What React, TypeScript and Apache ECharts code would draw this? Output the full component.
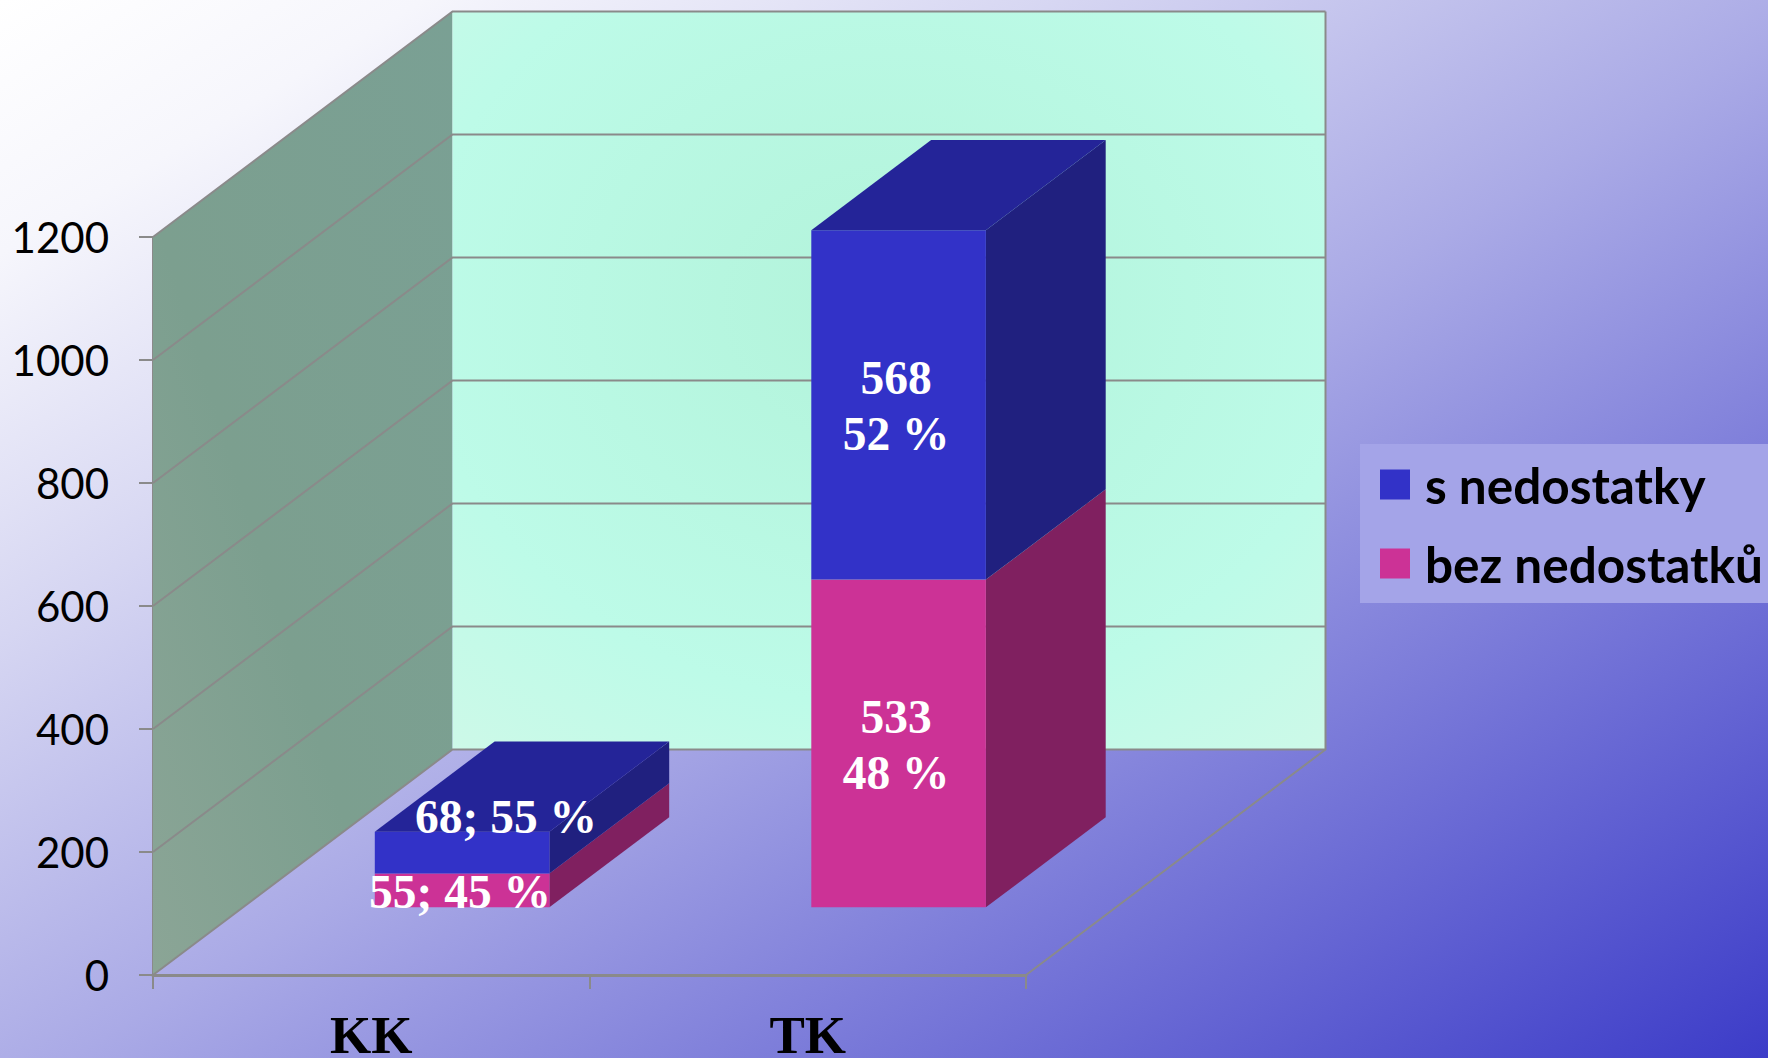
import React, { useEffect, useRef } from "react";
import * as echarts from "echarts";

const categories = ["KK", "TK"];
const bezNedostatku = [55, 533];
const sNedostatky = [68, 568];
const bezLabels = ["55; 45 %", "533\n48 %"];
const sLabels = ["68; 55 %", "568\n52 %"];
const yTicks = [0, 200, 400, 600, 800, 1000, 1200];
const seriesNames = ["s nedostatky", "bez nedostatků"];

const DEPTH_X = 299.5;
const DEPTH_Y = -225.5;
const NEAR = 0.3;
const FAR = 0.7;
const BAR_SHIFT = 1;
const LINE = "#8a8a8a";
const serif = "'Liberation Serif', 'Times New Roman', serif";

function wallsRender(params: any, api: any) {
  const v = api.value(0);
  const p = api.coord([0, v]);
  const left = p[0] - api.size([1, 0])[0] / 2;
  const y = p[1];
  const children: any[] = [];
  const right = api.coord([1, 0])[0] + api.size([1, 0])[0] / 2;
  if (params.dataIndex === 0) {
    const top = api.coord([0, yTicks[yTicks.length - 1]])[1];
    children.push({
      type: "polygon",
      shape: { points: [[left, y], [left, top], [left + DEPTH_X, top + DEPTH_Y], [left + DEPTH_X, y + DEPTH_Y]] },
      style: {
        fill: new echarts.graphic.LinearGradient(0, 1, 1, 0, [
          { offset: 0, color: "#8ba596" },
          { offset: 0.4, color: "#7c9f8f" },
          { offset: 1, color: "#7aa094" },
        ]),
      },
    });
    children.push({
      type: "rect",
      shape: { x: left + DEPTH_X, y: top + DEPTH_Y, width: right - left, height: y - top },
      style: {
        fill: new echarts.graphic.RadialGradient(0.5, 0.4, 0.9, [
          { offset: 0, color: "#b2f3da" },
          { offset: 0.6, color: "#bdfbe8" },
          { offset: 0.85, color: "#ccf9e8" },
          { offset: 1, color: "#e0fbef" },
        ]),
      },
    });
    children.push({
      type: "polyline",
      shape: { points: [[right, y], [right + DEPTH_X, y + DEPTH_Y], [right + DEPTH_X, top + DEPTH_Y]] },
      style: { fill: "none", stroke: LINE, lineWidth: 2 },
    });
  }
  children.push({
    type: "polyline",
    shape: { points: [[left, y], [left + DEPTH_X, y + DEPTH_Y], [right + DEPTH_X, y + DEPTH_Y]] },
    style: { fill: "none", stroke: LINE, lineWidth: 2 },
  });
  return { type: "group", children };
}

function barRender(colors: any, labels: string[], isTop: boolean) {
  return (params: any, api: any) => {
    const i = api.value(0);
    const from = api.coord([i, api.value(1)]);
    const to = api.coord([i, api.value(2)]);
    const half = api.size([1, 0])[0] * 0.2;
    const nx = DEPTH_X * NEAR + BAR_SHIFT;
    const ny = DEPTH_Y * NEAR;
    const fx = DEPTH_X * FAR + BAR_SHIFT;
    const fy = DEPTH_Y * FAR;
    const x0 = from[0] - half + nx;
    const x1 = from[0] + half + nx;
    const yb = from[1] + ny;
    const yt = to[1] + ny;
    const dx = fx - nx;
    const dy = fy - ny;
    const text = labels[i];
    const small = text.indexOf("\n") < 0;
    const tx = (x0 + x1) / 2 + (small && isTop ? 44 : small ? -2 : -2.5);
    const ty = (yb + yt) / 2 + (small && isTop ? -36 : 1.5);
    const children: any[] = [
      {
        type: "polygon",
        shape: { points: [[x1, yb], [x1 + dx, yb + dy], [x1 + dx, yt + dy], [x1, yt]] },
        style: { fill: colors.side },
      },
      {
        type: "rect",
        shape: { x: x0, y: yt, width: x1 - x0, height: yb - yt },
        style: { fill: colors.front },
      },
    ];
    if (isTop) {
      children.push({
        type: "polygon",
        shape: { points: [[x0, yt], [x0 + dx, yt + dy], [x1 + dx, yt + dy], [x1, yt]] },
        style: { fill: colors.top },
      });
    }
    children.push({
      type: "text",
      style: {
        x: tx,
        y: ty,
        text,
        fill: "#ffffff",
        fontFamily: serif,
        fontWeight: "bold",
        fontSize: 47.5,
        lineHeight: 56,
        align: "center",
        verticalAlign: "middle",
      },
    });
    return { type: "group", children };
  };
}

export default function App() {
  const ref = useRef<HTMLDivElement>(null);
  useEffect(() => {
    const chart = echarts.init(ref.current!, undefined, { renderer: "svg" });
    const bottomData = categories.map((_, i) => [i, 0, bezNedostatku[i]]);
    const topData = categories.map((_, i) => [i, bezNedostatku[i], bezNedostatku[i] + sNedostatky[i]]);
    chart.setOption({
      animation: false,
      backgroundColor: new echarts.graphic.LinearGradient(0, 0, 1, 1, [
        { offset: 0, color: "#ffffff" },
        { offset: 0.12, color: "#f6f6fc" },
        { offset: 0.3, color: "#d6d6f2" },
        { offset: 0.52, color: "#aaaae6" },
        { offset: 1, color: "#3c3cc8" },
      ]),
      grid: { left: 153, right: 742, top: 237, bottom: 83, outerBoundsMode: "none" },
      legend: {
        data: seriesNames,
        orient: "vertical",
        left: 1360,
        top: 444,
        padding: [15.5, 60, 14.5, 20],
        itemWidth: 30,
        itemHeight: 30,
        itemGap: 29,
        backgroundColor: "#a4a4e8",
        icon: "rect",
        textStyle: {
          fontFamily: "Lato",
          fontWeight: "bold",
          fontSize: 49.5,
          lineHeight: 38,
          color: "#000",
          padding: [0, 0, 12, 10],
        },
      },
      xAxis: {
        type: "category",
        data: categories,
        axisLine: { lineStyle: { color: LINE, width: 3 } },
        axisTick: { show: true, alignWithLabel: false, length: 14, lineStyle: { color: LINE, width: 2 } },
        axisLabel: { fontFamily: serif, fontWeight: "bold", fontSize: 53, lineHeight: 30, color: "#000", margin: 45 },
      },
      yAxis: {
        type: "value",
        min: 0,
        max: 1200,
        interval: 200,
        splitLine: { show: false },
        axisLine: { show: true, lineStyle: { color: LINE, width: 2 } },
        axisTick: { show: true, length: 14, lineStyle: { color: LINE, width: 2 } },
        axisLabel: {
          fontFamily: "Lato",
          fontSize: 42,
          color: "#000",
          margin: 44,
          padding: [4, 0, 0, 0],
          formatter: (v: number) => String(v),
        },
      },
      series: [
        {
          type: "custom",
          name: "walls",
          renderItem: wallsRender,
          data: yTicks.map((t) => [t]),
          encode: { y: 0 },
          z: 1,
          silent: true,
        },
        {
          type: "custom",
          name: seriesNames[1],
          renderItem: barRender({ front: "#cc3296", side: "#802060" }, bezLabels, false),
          itemStyle: { color: "#cc3296" },
          data: bottomData,
          encode: { x: 0, y: [1, 2] },
          z: 3,
        },
        {
          type: "custom",
          name: seriesNames[0],
          renderItem: barRender({ front: "#3232c8", side: "#20207f", top: "#242498" }, sLabels, true),
          itemStyle: { color: "#3232c8" },
          data: topData,
          encode: { x: 0, y: [1, 2] },
          z: 3,
        },
      ],
    });
    return () => chart.dispose();
  }, []);
  return <div ref={ref} style={{ position: "absolute", left: 0, top: 0, width: 1768, height: 1058 }} />;
}
